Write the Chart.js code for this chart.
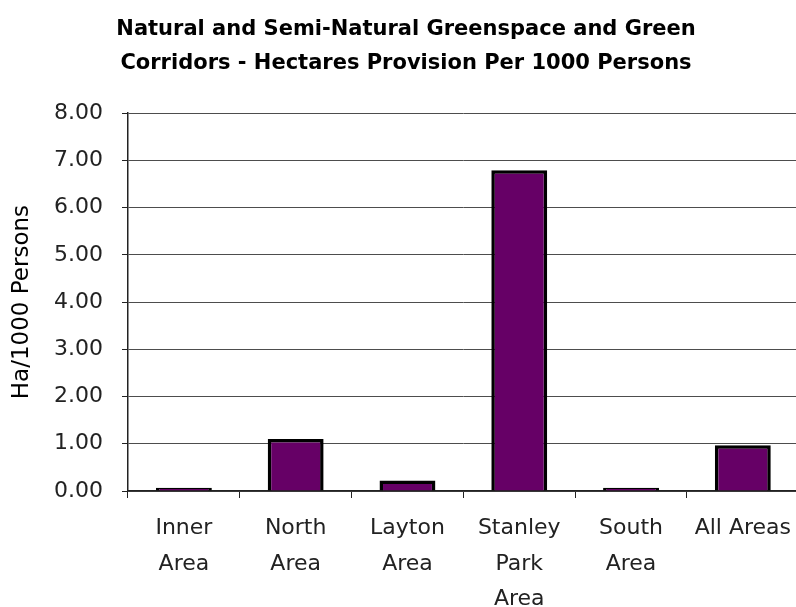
<!DOCTYPE html>
<html>
<head>
    <script src="https://cdn.jsdelivr.net/npm/chart.js"></script>
    <style>
        html, body {
            margin: 0;
            padding: 0;
            background: #fff;
            overflow: hidden;
        }
        canvas {
            display: block;
        }
    </style>
</head>
<body>
    <canvas id="greenChart" width="804" height="607"></canvas>

    <script>
        let areas = [
            ['Inner', 'Area'],
            ['North', 'Area'],
            ['Layton', 'Area'],
            ['Stanley', 'Park', 'Area'],
            ['South', 'Area'],
            'All Areas'
        ];
        let haPer1000 = [0.07, 1.10, 0.22, 6.79, 0.07, 0.97];
        let yTicks = [0, 1, 2, 3, 4, 5, 6, 7, 8];

        let ctx = document.getElementById('greenChart').getContext('2d');

        let chart = new Chart(ctx, {
            type: 'bar',
            data: {
                labels: areas,
                datasets: [{
                    data: haPer1000,
                    backgroundColor: '#660066',
                    borderColor: '#000',
                    borderWidth: 3.5,
                    borderSkipped: 'start',
                    barPercentage: 0.5,
                    categoryPercentage: 1
                }]
            },
            options: {
                responsive: false,
                animation: false,
                layout: { padding: { left: 8, right: 0, top: 0, bottom: 0 } },
                plugins: {
                    legend: { display: false },
                    tooltip: { enabled: false },
                    title: {
                        display: true,
                        text: ['Natural and Semi-Natural Greenspace and Green',
                               'Corridors - Hectares Provision Per 1000 Persons'],
                        color: '#000',
                        font: { family: 'DejaVu Sans', size: 21, weight: 'bold', lineHeight: 1.6 },
                        padding: { top: 13, bottom: 33 }
                    }
                },
                scales: {
                    x: {
                        grid: {
                            drawOnChartArea: false,
                            color: '#222',
                            tickLength: 7
                        },
                        border: { color: '#222', width: 1.5 },
                        ticks: {
                            color: '#222',
                            padding: 13,
                            maxRotation: 0,
                            autoSkip: false,
                            font: { family: 'DejaVu Sans', size: 22, lineHeight: 1.6 }
                        },
                        afterFit: function (scale) { scale.height = 116; }
                    },
                    y: {
                        min: 0,
                        max: 8,
                        afterBuildTicks: function (scale) {
                            scale.ticks = yTicks.map(v => ({ value: v }));
                        },
                        grid: {
                            color: '#4d4d4d',
                            tickLength: 6,
                            tickColor: '#222'
                        },
                        border: { color: '#222', width: 1.5 },
                        ticks: {
                            color: '#222',
                            padding: 19,
                            font: { family: 'DejaVu Sans', size: 22 },
                            callback: v => v.toFixed(2)
                        },
                        title: {
                            display: true,
                            text: 'Ha/1000 Persons',
                            color: '#000',
                            padding: { top: 0, bottom: 0 },
                            font: { family: 'DejaVu Sans', size: 23, lineHeight: 1.2 }
                        },
                        afterFit: function (scale) { scale.width = 120; }
                    }
                }
            }
        });
    </script>
</body>
</html>
